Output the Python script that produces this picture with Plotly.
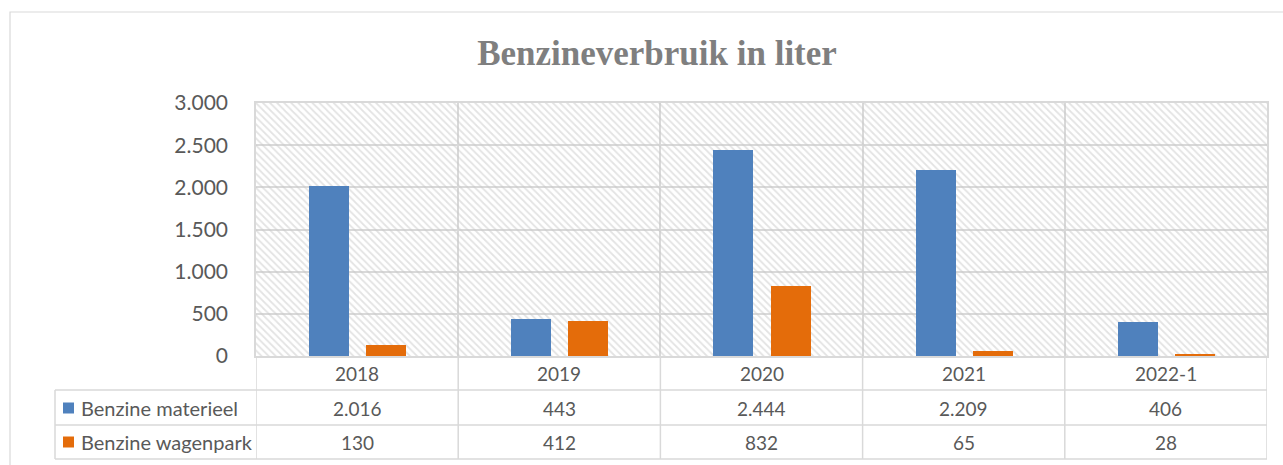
import plotly.graph_objects as go

categories = ["2018", "2019", "2020", "2021", "2022-1"]
series_names = ["Benzine materieel", "Benzine wagenpark"]
materieel = [2016, 443, 2444, 2209, 406]
wagenpark = [130, 412, 832, 65, 28]
y_ticks = [0, 500, 1000, 1500, 2000, 2500, 3000]

COLORS = ["#4F81BD", "#E46C0A"]
GRID = "#d9d9d9"
TXT = "#595959"
FONT = "Lato"

W, H = 1283, 465
L, R, T, B = 256, 1267, 103, 356  # plot area in pixels


def px(x):
    return (x - L) / (R - L)


def py(y):
    return (B - y) / (B - T)


def fmt(v):
    return f"{v:,}".replace(",", ".")


fig = go.Figure()

# hatched plot-area background
fig.add_trace(go.Bar(
    x=categories, y=[max(y_ticks)] * len(categories), width=1,
    marker=dict(color="rgba(0,0,0,0)", line=dict(width=0),
                pattern=dict(shape="\\", fgcolor="#c8c8c8", size=5,
                             solidity=0.35, fillmode="overlay")),
    hoverinfo="skip", showlegend=False,
))

for name, vals, col, off in zip(series_names, [materieel, wagenpark], COLORS, [-0.238, 0.045]):
    fig.add_trace(go.Bar(
        x=categories, y=vals, name=name, width=0.198, offset=off,
        marker=dict(color=col, line=dict(width=0)), showlegend=False,
    ))

shapes = []
line = dict(color=GRID, width=1.5)
# outer chart border
shapes.append(dict(type="rect", xref="paper", yref="paper",
                   x0=px(10), x1=px(1295), y0=py(475), y1=py(12),
                   line=dict(color=GRID, width=1.2), layer="below"))
# table horizontal lines
for yy in [390, 425, 459]:
    shapes.append(dict(type="line", xref="paper", yref="paper",
                       x0=px(55), x1=1, y0=py(yy), y1=py(yy), line=line))
# table left edge
shapes.append(dict(type="line", xref="paper", yref="paper",
                   x0=px(55), x1=px(55), y0=py(390), y1=py(459), line=line))
# category boundaries through table
for k in range(len(categories) + 1):
    shapes.append(dict(type="line", xref="x", yref="paper",
                       x0=k - 0.5, x1=k - 0.5, y0=0, y1=py(459), line=line))
# legend swatches
for col, yc in zip(COLORS, [408, 442]):
    shapes.append(dict(type="rect", xref="paper", yref="paper",
                       x0=px(63), x1=px(74), y0=py(yc + 5.5), y1=py(yc - 5.5),
                       fillcolor=col, line=dict(width=0)))

annotations = []
tfont = dict(family=FONT, size=19, color=TXT)
for i, c in enumerate(categories):
    annotations.append(dict(x=i, y=py(373), xref="x", yref="paper", text=c,
                            showarrow=False, font=tfont, xanchor="center", yanchor="middle"))
for vals, yc in zip([materieel, wagenpark], [408, 442]):
    for i, v in enumerate(vals):
        annotations.append(dict(x=i, y=py(yc), xref="x", yref="paper", text=fmt(v),
                                showarrow=False, font=tfont, xanchor="center", yanchor="middle"))
for name, yc in zip(series_names, [408, 442]):
    annotations.append(dict(x=px(79), y=py(yc), xref="paper", yref="paper", text=name,
                            showarrow=False, font=dict(family=FONT, size=20, color=TXT),
                            xanchor="left", yanchor="middle"))

fig.update_layout(
    width=W, height=H,
    margin=dict(l=L, r=W - R, t=T, b=H - B, pad=0),
    paper_bgcolor="white", plot_bgcolor="white",
    barmode="overlay", bargap=0,
    separators=",.",
    showlegend=False,
    title=dict(text="<b>Benzineverbruik in liter</b>", x=657 / W, xanchor="center",
               y=1 - 53 / H, yanchor="middle",
               font=dict(family="Liberation Serif", size=35, color="#7f7f7f")),
    xaxis=dict(type="category", range=[-0.5, len(categories) - 0.5], showticklabels=False,
               showgrid=True, gridcolor=GRID, gridwidth=1.5, tickson="boundaries",
               ticks="", showline=True, linecolor=GRID, linewidth=1.5, mirror=True,
               zeroline=False, fixedrange=True),
    yaxis=dict(range=[0, 3000], tickvals=y_ticks, tickformat=",d", showgrid=True,
               gridcolor=GRID, gridwidth=1.5, ticks="", ticklabelstandoff=22,
               tickfont=dict(family=FONT, size=21, color=TXT),
               showline=True, linecolor=GRID, linewidth=1.5, mirror=True,
               zeroline=False, fixedrange=True),
    shapes=shapes, annotations=annotations,
)

fig.write_html("out.html", config={"displayModeBar": False},
               post_script="document.body.style.margin='0';document.body.style.overflow='hidden';")
